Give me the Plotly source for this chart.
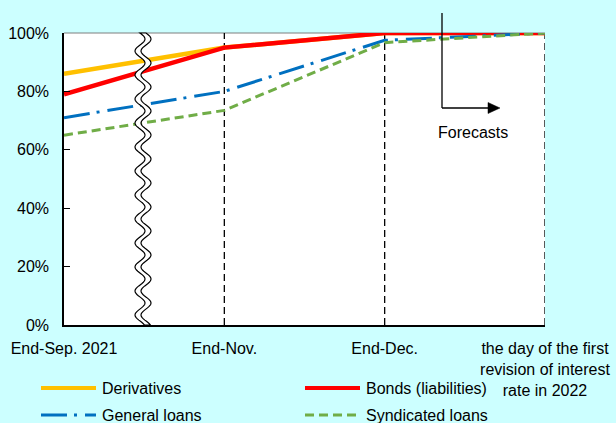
import numpy as np
import plotly.graph_objects as go

# ---- data -------------------------------------------------------------
categories = [
    "End-Sep. 2021",
    "End-Nov.",
    "End-Dec.",
    "the day of the first<br>revision of interest<br>rate in 2022",
]
derivatives = [86, 95, 100, 100]
bonds = [79, 95, 100, 100]
general_loans = [71, 80, 97.5, 100]
syndicated_loans = [65, 73.5, 96.7, 100]
y_ticks = [0, 20, 40, 60, 80, 100]
y_tick_labels = [f"{v}%" for v in y_ticks]

# ---- geometry ---------------------------------------------------------
W, H = 616, 423
M = dict(l=64, r=71, t=33, b=98)
PW = W - M["l"] - M["r"]
PH = H - M["t"] - M["b"]
FONT = "Liberation Sans, Arial, sans-serif"
FS = 16


def px_x(x):
    """pixel x -> paper x"""
    return (x - M["l"]) / PW


def px_y(y):
    """pixel y (from top) -> paper y"""
    return (M["t"] + PH - y) / PH


series = [
    ("Derivatives", derivatives, "#FFC000", 4.5, "solid"),
    ("Bonds (liabilities)", bonds, "#FF0000", 4.5, "solid"),
    ("General loans", general_loans, "#0070C0", 3, "26px,7px,3px,8px"),
    ("Syndicated loans", syndicated_loans, "#70AD47", 3, "9px,5px"),
]

xs = list(range(len(categories)))
fig = go.Figure()
for name, vals, color, width, dash in series:
    fig.add_trace(go.Scatter(
        x=xs, y=vals, mode="lines", name=name,
        line=dict(color=color, width=width, dash=dash),
        showlegend=False, hoverinfo="skip",
    ))

shapes = []
# dashed separators at the later dates
for xv in xs[1:]:
    shapes.append(dict(type="line", xref="x", yref="y", x0=xv, x1=xv, y0=0, y1=100,
                       line=dict(color="black", width=1.3, dash="7px,4px"), layer="below"))
# top frame
shapes.append(dict(type="line", xref="paper", yref="paper", x0=0, x1=1, y0=1, y1=1,
                   line=dict(color="#7f7f7f", width=1), layer="below"))

# axis break (double wavy line)
xc, amp, half_w, period = 143, 5, 3, 24
ys = np.linspace(M["t"], M["t"] + PH, 240)
wv = amp * np.sin(2 * np.pi * (ys - M["t"]) / period)
left = [(px_x(xc - half_w + w), px_y(y)) for y, w in zip(ys, wv)]
right = [(px_x(xc + half_w + w), px_y(y)) for y, w in zip(ys[::-1], wv[::-1])]
pts = left + right
path = "M" + " L".join(f"{a:.5f},{b:.5f}" for a, b in pts) + " Z"
shapes.append(dict(type="path", xref="paper", yref="paper", path=path,
                   fillcolor="white", line=dict(color="black", width=1.2)))

# forecasts marker
fx, ftop, fmid, fend = 442, 13, 108, 500
shapes.append(dict(type="line", xref="paper", yref="paper",
                   x0=px_x(fx), x1=px_x(fx), y0=px_y(ftop), y1=px_y(fmid),
                   line=dict(color="black", width=1.3)))
shapes.append(dict(type="line", xref="paper", yref="paper",
                   x0=px_x(fx), x1=px_x(fend - 10), y0=px_y(fmid), y1=px_y(fmid),
                   line=dict(color="black", width=1.3)))
shapes.append(dict(type="path", xref="paper", yref="paper",
                   path=(f"M{px_x(fend - 12):.5f},{px_y(fmid - 5.5):.5f} "
                         f"L{px_x(fend):.5f},{px_y(fmid):.5f} "
                         f"L{px_x(fend - 12):.5f},{px_y(fmid + 5.5):.5f} Z"),
                   fillcolor="black", line=dict(color="black", width=0.5)))

annotations = [
    dict(text="Forecasts", xref="paper", yref="paper", x=px_x(473), y=px_y(132),
         showarrow=False, font=dict(family=FONT, size=FS, color="black"),
         xanchor="center", yanchor="middle"),
]

# legend (two columns)
legend_pos = [(41, 388), (305, 388), (41, 415), (305, 415)]
for (name, vals, color, width, dash), (lx, ly) in zip(series, legend_pos):
    shapes.append(dict(type="line", xref="paper", yref="paper",
                       x0=px_x(lx), x1=px_x(lx + 55), y0=px_y(ly), y1=px_y(ly),
                       line=dict(color=color, width=min(width, 4), dash=dash)))
    annotations.append(dict(text=name, xref="paper", yref="paper",
                            x=px_x(lx + 59), y=px_y(ly), showarrow=False,
                            xanchor="left", yanchor="middle",
                            font=dict(family=FONT, size=FS, color="black")))

fig.update_layout(
    width=W, height=H, margin=M,
    paper_bgcolor="#CCFFFF", plot_bgcolor="white",
    font=dict(family=FONT, size=FS, color="black"),
    shapes=shapes, annotations=annotations,
    showlegend=False,
)
fig.update_xaxes(
    range=[0, len(categories) - 1], tickvals=xs, ticktext=categories,
    showgrid=False, zeroline=False, showline=True, linecolor="black", linewidth=1.5,
    ticks="", ticklabelstandoff=8, fixedrange=True, automargin=False,
)
fig.update_yaxes(
    range=[0, 100], tickvals=y_ticks, ticktext=y_tick_labels,
    showgrid=False, zeroline=False, showline=True, linecolor="black", linewidth=1.5,
    ticks="inside", ticklen=6, tickcolor="black", tickwidth=1,
    ticklabelstandoff=10, fixedrange=True, automargin=False,
)

fig.write_html("out.html")
